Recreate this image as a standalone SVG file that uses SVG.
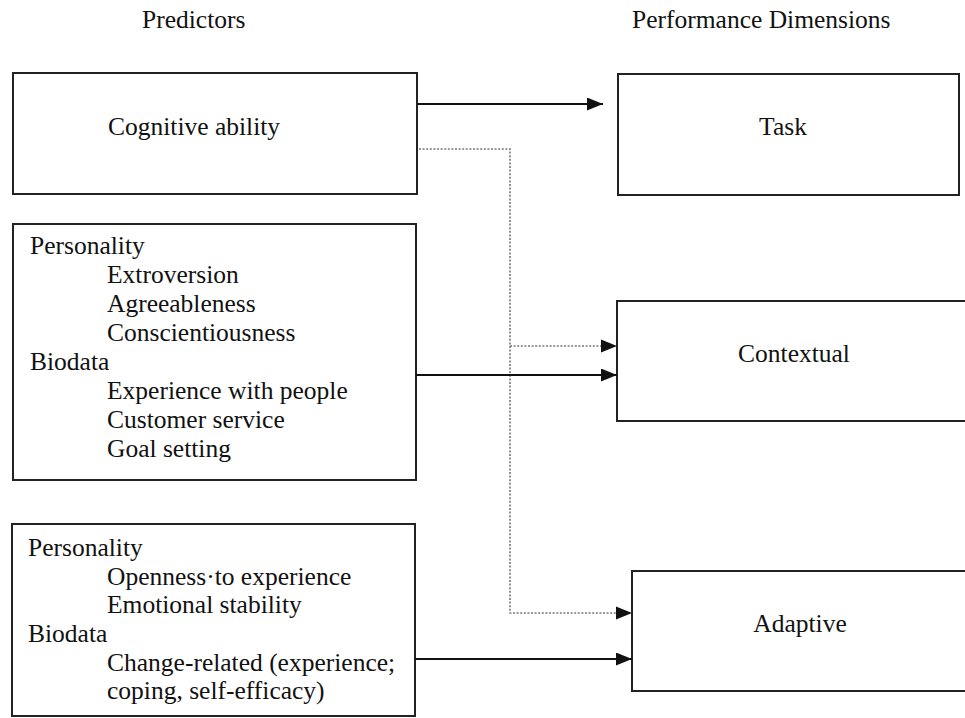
<svg xmlns="http://www.w3.org/2000/svg" width="965" height="718" viewBox="0 0 965 718">
<style>
text{font-family:'Liberation Serif','DejaVu Serif',serif;font-size:25.5px;fill:#111}
.box{fill:#fff;stroke:#222;stroke-width:2}
.solid{stroke:#111;stroke-width:2;fill:none}
.dot{stroke:#777;stroke-width:1.6;fill:none;stroke-dasharray:2 1.6}
.mid{text-anchor:middle}
</style>
<defs>
<marker id="ah" markerUnits="userSpaceOnUse" markerWidth="17" markerHeight="13" refX="16" refY="6.5" orient="auto">
<path d="M0,0 L16,6.5 L0,13 z" fill="#111"/>
</marker>
</defs>
<g font-family="Liberation Serif, DejaVu Serif, serif">
<text x="142" y="28">Predictors</text>
<text x="632" y="28">Performance Dimensions</text>
<g id="cognitive">
<rect class="box" x="13" y="73" width="404" height="121"/>
<text x="108" y="135">Cognitive ability</text>
</g>
<g id="predictors2">
<rect class="box" x="13" y="224" width="403" height="256"/>
<text x="30" y="254">Personality</text>
<text x="107" y="283">Extroversion</text>
<text x="107" y="312">Agreeableness</text>
<text x="107" y="341">Conscientiousness</text>
<text x="30" y="370">Biodata</text>
<text x="107" y="399">Experience with people</text>
<text x="107" y="428">Customer service</text>
<text x="107" y="457">Goal setting</text>
</g>
<g id="predictors3">
<rect class="box" x="12" y="524" width="403" height="192"/>
<text x="28" y="556">Personality</text>
<text x="107" y="585">Openness·to experience</text>
<text x="107" y="613">Emotional stability</text>
<text x="28" y="642">Biodata</text>
<text x="107" y="671">Change-related (experience;</text>
<text x="107" y="699">coping, self-efficacy)</text>
</g>
<g id="task">
<rect class="box" x="618" y="74" width="341" height="121"/>
<text class="mid" x="783" y="135">Task</text>
</g>
<g id="contextual">
<rect class="box" x="617" y="301" width="360" height="120"/>
<text class="mid" x="794" y="362">Contextual</text>
</g>
<g id="adaptive">
<rect class="box" x="632" y="571" width="350" height="120"/>
<text class="mid" x="800" y="632">Adaptive</text>
</g>
</g>
<g id="connectors">
<line class="solid" x1="417" y1="104" x2="603" y2="104" marker-end="url(#ah)"/>
<polyline class="dot" points="419,149 510,149 510,613 616,613"/>
<line class="dot" x1="510" y1="346" x2="602" y2="346"/>
<path d="M601,339.5 L617,346 L601,352.5 z" fill="#111"/>
<path d="M616,606.5 L632,613 L616,619.5 z" fill="#111"/>
<line class="solid" x1="416" y1="375" x2="617" y2="375" marker-end="url(#ah)"/>
<line class="solid" x1="415" y1="659" x2="632" y2="659" marker-end="url(#ah)"/>
</g>
</svg>
